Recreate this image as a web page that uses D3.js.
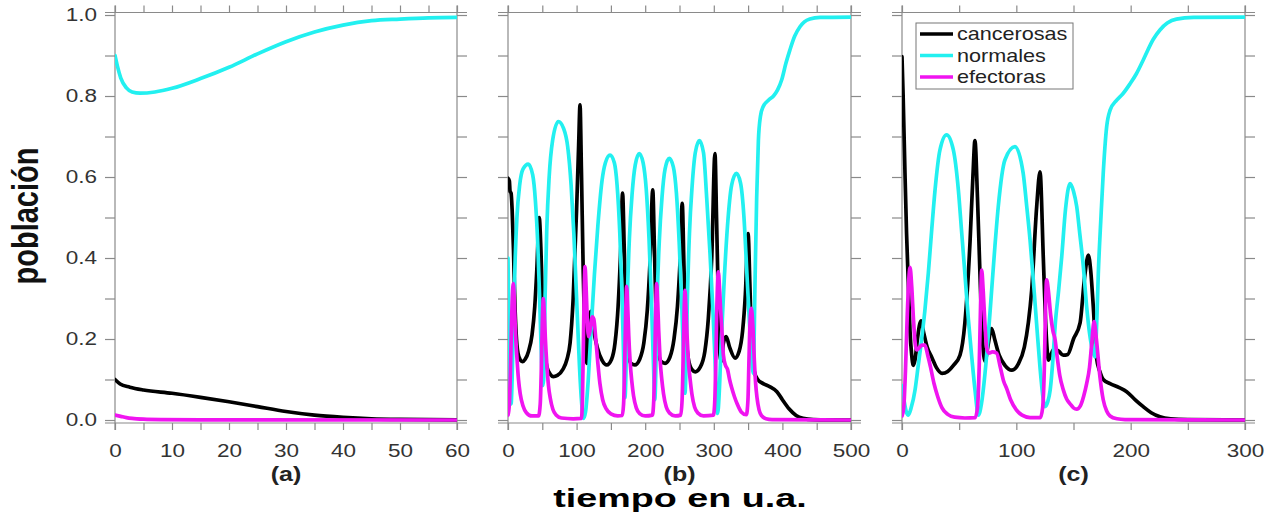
<!DOCTYPE html>
<html><head><meta charset="utf-8">
<script src="https://cdn.jsdelivr.net/npm/d3@7"></script>
<style>
html,body{margin:0;padding:0;background:#fff;}
svg{display:block;font-family:"Liberation Sans",Arial,sans-serif;}
</style></head>
<body>
<svg id="chart" width="1273" height="519"></svg>
<script>
// ---------------- data ----------------
const seriesNames = ["cancerosas", "normales", "efectoras"];
const seriesColors = ["#000000", "#22f0f0", "#f014f0"];

const yTicks = [0, 0.1, 0.2, 0.3, 0.4, 0.5, 0.6, 0.7, 0.8, 0.9, 1.0];
const yLabels = [0, 0.2, 0.4, 0.6, 0.8, 1.0];

const aTicks = [0, 5, 10, 15, 20, 25, 30, 35, 40, 45, 50, 55, 60];
const aLabels = [0, 10, 20, 30, 40, 50, 60];
const bTicks = [0, 50, 100, 150, 200, 250, 300, 350, 400, 450, 500];
const bLabels = [0, 100, 200, 300, 400, 500];
const cTicks = [0, 50, 100, 150, 200, 250, 300];
const cLabels = [0, 100, 200, 300];

// panel (a)
const a_cancerosas = [[0,0.1],[0.9,0.089],[2.6,0.081],[5,0.074],[10,0.066],[15,0.056],[20,0.045],[25,0.033],[30,0.021],[35,0.012],[40,0.0066],[45,0.003],[50,0.0015],[60,0.0005]];
const a_normales = [[0,0.9],[0.4,0.875],[1,0.845],[2,0.82],[3,0.81],[4.4,0.807],[7,0.81],[10,0.819],[15,0.843],[20,0.871],[25,0.904],[30,0.934],[35,0.958],[40,0.975],[45,0.986],[50,0.99],[55,0.993],[60,0.994]];
const a_efectoras = [[0,0.012],[1,0.009],[2,0.006],[3,0.004],[5,0.002],[8,0.001],[15,0.0005],[60,0]];

// panel (b)
const b_cancerosas = [[0,0.597],[2,0.59],[3,0.565],[4.5,0.56],[6,0.52],[8,0.42],[10,0.29],[12,0.21],[14.5,0.165],[18,0.148],[21,0.144],[25,0.15],[30,0.17],[35,0.21],[39,0.28],[42,0.37],[45.5,0.5],[48,0.42],[50.5,0.28],[53,0.18],[57,0.13],[62,0.112],[66,0.107],[72,0.11],[80,0.125],[86,0.15],[90.5,0.19],[95,0.3],[100,0.52],[103,0.68],[105,0.778],[107,0.62],[109.5,0.38],[112,0.2],[114.7,0.14],[117.5,0.22],[120.5,0.268],[124,0.23],[130,0.18],[137,0.148],[144,0.136],[151,0.15],[156,0.19],[160.5,0.28],[164.5,0.43],[167,0.56],[169.5,0.42],[172,0.26],[175,0.17],[179,0.14],[185,0.136],[192,0.15],[198,0.19],[203,0.27],[207,0.39],[211,0.568],[213.5,0.42],[216,0.25],[219,0.17],[223,0.145],[229,0.14],[236,0.155],[242,0.2],[247,0.28],[251,0.4],[254,0.535],[256.5,0.38],[259,0.23],[263,0.15],[268,0.125],[273,0.119],[280,0.13],[287,0.17],[292,0.25],[297,0.4],[301.7,0.658],[304,0.5],[306.5,0.3],[309,0.16],[311,0.145],[314,0.19],[318,0.206],[323,0.18],[331,0.153],[337,0.17],[342,0.22],[346,0.31],[350,0.46],[352.5,0.34],[355,0.2],[359,0.12],[364,0.1],[372,0.09],[382,0.082],[392,0.07],[400,0.05],[410,0.027],[420,0.011],[430,0.004],[445,0.001],[500,0]];
const b_normales = [[0,0.4],[1.5,0.2],[3,0.06],[4.5,0.04],[6,0.1],[8,0.25],[10.5,0.4],[13,0.5],[17,0.58],[22,0.62],[29.6,0.632],[36,0.605],[40,0.54],[43.5,0.43],[46.5,0.28],[49,0.14],[50.5,0.085],[52,0.1],[54,0.3],[56.5,0.47],[60,0.6],[65,0.69],[73.4,0.737],[81,0.72],[87,0.675],[92,0.58],[96,0.46],[100,0.3],[104,0.14],[107,0.05],[110,0.004],[113,0.02],[117,0.1],[121,0.22],[126,0.36],[131,0.48],[137,0.59],[142,0.635],[148.7,0.654],[155,0.635],[159,0.58],[163,0.46],[166,0.32],[168.5,0.16],[170.5,0.055],[172,0.12],[174,0.3],[177,0.45],[181,0.56],[185.5,0.63],[191.4,0.658],[197,0.635],[201.5,0.57],[205.5,0.45],[209,0.3],[212,0.14],[214,0.05],[215.5,0.12],[217.5,0.3],[220.5,0.44],[224.5,0.55],[229,0.62],[235,0.646],[241,0.625],[245.5,0.56],[249.5,0.44],[253,0.3],[256,0.15],[258,0.066],[259.5,0.13],[261.5,0.3],[264.5,0.46],[268.5,0.58],[273,0.66],[279,0.69],[285,0.66],[289.6,0.55],[294.5,0.41],[299,0.26],[302.5,0.12],[305.6,0.016],[308,0.07],[311,0.2],[315,0.34],[320,0.48],[326,0.58],[333,0.609],[339,0.585],[344,0.5],[348,0.37],[352,0.24],[355,0.16],[357.6,0.115],[360,0.33],[362.5,0.55],[365,0.69],[368,0.75],[372,0.774],[380,0.79],[387,0.8],[393,0.815],[399,0.84],[405,0.88],[411,0.914],[418,0.948],[425.6,0.971],[432,0.983],[440,0.99],[455,0.994],[500,0.995]];
const b_efectoras = [[0,0.012],[2,0.04],[3.5,0.12],[5,0.23],[6.5,0.31],[7.8,0.337],[9.3,0.29],[10.8,0.22],[12.8,0.16],[15.3,0.1],[17.8,0.065],[21.8,0.035],[26.8,0.018],[34.8,0.01],[44.5,0.01],[47,0.04],[48.5,0.12],[50,0.24],[51.5,0.3],[53,0.26],[54.5,0.2],[56.5,0.14],[59,0.085],[61.5,0.055],[65.5,0.026],[70.5,0.012],[78,0.005],[95,0.003],[107,0.004],[108.5,0.05],[110,0.2],[111.2,0.33],[112.3,0.379],[113.8,0.33],[115.5,0.25],[117.4,0.206],[120,0.225],[123,0.255],[125,0.25],[128,0.2],[131,0.14],[134,0.09],[138,0.05],[143,0.028],[150,0.015],[160,0.01],[166.5,0.011],[168.5,0.04],[170,0.13],[171.5,0.26],[173,0.33],[174.5,0.28],[176,0.21],[178,0.145],[180.5,0.095],[183,0.06],[187,0.03],[192,0.016],[200,0.01],[210.5,0.012],[212.5,0.05],[214,0.15],[215.3,0.27],[216.7,0.337],[218.2,0.29],[219.7,0.22],[221.7,0.15],[224.2,0.1],[226.7,0.065],[230.7,0.032],[235.7,0.017],[243.7,0.01],[251.8,0.012],[253.8,0.05],[255.3,0.15],[256.6,0.26],[258,0.32],[259.5,0.27],[261,0.21],[263,0.145],[265.5,0.1],[268,0.065],[272,0.032],[277,0.017],[285,0.01],[299.5,0.012],[301.5,0.05],[303,0.15],[304.5,0.28],[306.6,0.366],[308.5,0.32],[310,0.27],[311.5,0.23],[314,0.16],[317,0.135],[320,0.125],[323,0.1],[326,0.08],[330,0.058],[334,0.04],[340,0.02],[347.5,0.013],[349.8,0.05],[351.3,0.15],[352.8,0.24],[354.8,0.276],[357,0.23],[359,0.15],[361,0.09],[363,0.055],[366,0.025],[370,0.01],[376,0.003],[385,0.001],[500,0]];

// panel (c)
const c_cancerosas = [[0,0.897],[1,0.8],[2.6,0.61],[4,0.46],[5.5,0.34],[7,0.22],[8.5,0.16],[9.9,0.135],[11.5,0.15],[13.5,0.2],[16.6,0.245],[19,0.215],[22,0.18],[26,0.155],[30,0.13],[35,0.115],[40,0.12],[45,0.135],[50.7,0.16],[55,0.24],[59.5,0.44],[62,0.6],[63.8,0.69],[66,0.55],[68.2,0.36],[70,0.22],[71.5,0.16],[72.6,0.145],[75,0.18],[78.4,0.226],[81,0.2],[85,0.16],[90,0.135],[96,0.123],[102,0.14],[107,0.18],[110.5,0.24],[113.4,0.32],[117.8,0.527],[120.7,0.613],[123.6,0.4],[125.5,0.25],[126.8,0.18],[128,0.148],[130,0.16],[133,0.175],[137,0.17],[141,0.16],[145,0.162],[150,0.2],[155.7,0.239],[160,0.36],[163,0.407],[165,0.37],[167.3,0.28],[170,0.156],[173,0.12],[176,0.1],[182,0.09],[190,0.08],[196.5,0.07],[204,0.05],[211,0.033],[218,0.018],[225.6,0.008],[235,0.003],[250,0.001],[300,0]];
const c_normales = [[0,0.085],[2,0.045],[4,0.018],[5.5,0.012],[8,0.03],[11.4,0.074],[14,0.13],[17.2,0.2],[20,0.27],[23,0.362],[26,0.47],[28.9,0.568],[33.2,0.667],[39,0.704],[44.9,0.667],[49.3,0.568],[52,0.47],[55,0.362],[58,0.25],[61,0.156],[64,0.07],[66.8,0.012],[69.5,0.04],[72.6,0.115],[75.5,0.21],[78.4,0.32],[81.3,0.43],[84.2,0.527],[90,0.642],[98.8,0.675],[106,0.609],[109,0.53],[112,0.444],[115,0.34],[117.8,0.235],[120.7,0.13],[123.6,0.05],[125,0.033],[127.5,0.045],[129.6,0.074],[132,0.15],[134,0.235],[137,0.32],[139.7,0.403],[143,0.52],[147,0.584],[150,0.565],[152.8,0.527],[155.5,0.46],[158.6,0.379],[161.5,0.28],[164,0.215],[166,0.18],[168.8,0.156],[170.3,0.24],[171.7,0.362],[174,0.5],[176,0.609],[179,0.724],[182,0.765],[187.8,0.79],[193,0.805],[199.4,0.83],[205,0.855],[211,0.889],[219.8,0.94],[225.6,0.963],[232,0.98],[240,0.99],[255,0.994],[300,0.995]];
const c_efectoras = [[0,0.01],[1.5,0.03],[3,0.12],[4.5,0.25],[5.8,0.34],[7,0.377],[8.5,0.33],[10,0.25],[11.5,0.19],[12.8,0.173],[15,0.178],[17.5,0.185],[20,0.185],[22.5,0.16],[25,0.13],[28,0.09],[31,0.06],[35,0.03],[40,0.014],[46,0.007],[55,0.005],[64,0.006],[66,0.03],[67.5,0.13],[68.7,0.28],[69.7,0.37],[71,0.32],[72.5,0.24],[74,0.18],[76,0.165],[79,0.168],[82.8,0.165],[86,0.13],[89,0.095],[91.5,0.078],[95,0.05],[100,0.025],[105,0.012],[112,0.006],[121,0.006],[123,0.03],[124.5,0.13],[125.5,0.27],[126.5,0.346],[128,0.32],[130,0.26],[132,0.22],[133.8,0.2],[136,0.15],[138,0.11],[141,0.075],[144,0.052],[147,0.04],[150,0.03],[152.8,0.027],[156,0.035],[159,0.06],[161.5,0.09],[164,0.13],[166,0.19],[168,0.243],[170,0.2],[173,0.11],[176,0.05],[179,0.022],[182,0.01],[188,0.003],[195,0.001],[300,0]];

// ---------------- drawing ----------------
const svg = d3.select("#chart");
const yTop = 12.5, yBot = 423;
const y = d3.scaleLinear().domain([-0.0074, 1.0062]).range([yBot, yTop]);
const axisColor = "#8a8a8a";
const labelColor = "#333";

const panels = [
  {left:115, right:457, domain:[0,60], ticks:aTicks, labels:aLabels, series:[a_cancerosas,a_normales,a_efectoras], tag:"(a)", yLab:true},
  {left:508, right:851, domain:[0,500], ticks:bTicks, labels:bLabels, series:[b_cancerosas,b_normales,b_efectoras], tag:"(b)", yLab:false},
  {left:902, right:1245, domain:[0,300], ticks:cTicks, labels:cLabels, series:[c_cancerosas,c_normales,c_efectoras], tag:"(c)", yLab:false, legend:true}
];

panels.forEach((p, i) => {
  const x = d3.scaleLinear().domain(p.domain).range([p.left, p.right]);
  const g = svg.append("g");

  const clipId = "clip" + i;
  svg.append("clipPath").attr("id", clipId).append("rect")
    .attr("x", p.left).attr("y", yTop - 4).attr("width", p.right - p.left).attr("height", yBot - yTop + 8);

  const bottom = g.append("g").attr("transform", `translate(0,${yBot})`)
    .call(d3.axisBottom(x).tickValues(p.ticks).tickSize(7).tickSizeOuter(0)
      .tickFormat(d => p.labels.includes(d) ? String(d) : ""));
  const top = g.append("g").attr("transform", `translate(0,${yTop})`)
    .call(d3.axisTop(x).tickValues(p.ticks).tickSize(7).tickSizeOuter(0).tickFormat(""));
  const leftAx = g.append("g").attr("transform", `translate(${p.left},0)`)
    .call(d3.axisLeft(y).tickValues(yTicks).tickSize(10).tickSizeOuter(0)
      .tickFormat(d => (p.yLab && yLabels.some(v => Math.abs(v - d) < 1e-9)) ? d.toFixed(1) : ""));
  const rightAx = g.append("g").attr("transform", `translate(${p.right},0)`)
    .call(d3.axisRight(y).tickValues(yTicks).tickSize(10).tickSizeOuter(0).tickFormat(""));

  [bottom, top, leftAx, rightAx].forEach(a => {
    a.select(".domain").remove();
    a.selectAll(".tick line").attr("stroke", axisColor).attr("stroke-width", 1.2);
  });
  bottom.selectAll(".tick text")
    .attr("font-size", 18).attr("fill", labelColor)
    .attr("y", 21).attr("x", 0)
    .attr("transform", "scale(1.25,1)");
  leftAx.selectAll(".tick text")
    .attr("font-size", 18).attr("fill", labelColor)
    .attr("x", -18 / 1.25)
    .attr("transform", "scale(1.25,1)");

  g.append("line").attr("x1", p.left - 10).attr("x2", p.right + 10).attr("y1", yTop).attr("y2", yTop)
    .attr("stroke", axisColor).attr("stroke-width", 1.2);
  g.append("line").attr("x1", p.left - 10).attr("x2", p.right + 10).attr("y1", yBot).attr("y2", yBot)
    .attr("stroke", axisColor).attr("stroke-width", 1.2);
  g.append("line").attr("x1", p.left).attr("x2", p.left).attr("y1", yTop - 7).attr("y2", yBot + 7)
    .attr("stroke", axisColor).attr("stroke-width", 1.2);
  g.append("line").attr("x1", p.right).attr("x2", p.right).attr("y1", yTop - 7).attr("y2", yBot + 7)
    .attr("stroke", axisColor).attr("stroke-width", 1.2);

  const line = d3.line().x(d => x(d[0])).y(d => y(d[1])).curve(d3.curveMonotoneX);
  const lg = g.append("g").attr("clip-path", `url(#${clipId})`);
  p.series.forEach((s, k) => {
    lg.append("path").datum(s).attr("d", line)
      .attr("fill", "none").attr("stroke", seriesColors[k])
      .attr("stroke-width", 3.7).attr("stroke-linejoin", "round").attr("stroke-linecap", "round");
  });

  const cx = (p.left + p.right) / 2;
  g.append("text").attr("transform", `translate(${cx},481) scale(1.25,1)`)
    .attr("text-anchor", "middle").attr("font-size", 20).attr("font-weight", "bold")
    .attr("fill", "#222").text(p.tag);

  if (p.legend) {
    const lgX = 916, lgY = 23;
    const leg = g.append("g");
    leg.append("rect").attr("x", lgX).attr("y", lgY).attr("width", 157).attr("height", 66)
      .attr("fill", "#fff").attr("stroke", "#777").attr("stroke-width", 1);
    seriesNames.forEach((n, k) => {
      const ly = 34 + k * 21.5;
      leg.append("line").attr("x1", lgX + 4).attr("x2", lgX + 37).attr("y1", ly).attr("y2", ly)
        .attr("stroke", seriesColors[k]).attr("stroke-width", 3.5);
      leg.append("text").attr("transform", `translate(${lgX + 41},${ly + 6}) scale(1.2,1)`)
        .attr("font-size", 18).attr("fill", "#222").text(n);
    });
  }
});

svg.append("text").attr("transform", "translate(680,507) scale(1.45,1)")
  .attr("text-anchor", "middle").attr("font-size", 26).attr("font-weight", "bold")
  .attr("fill", "#000").text("tiempo en u.a.");
svg.append("text").attr("transform", "translate(38,216) rotate(-90) scale(1,1.3)")
  .attr("text-anchor", "middle").attr("font-size", 29).attr("font-weight", "bold")
  .attr("fill", "#111").text("población");
</script>
</body></html>
